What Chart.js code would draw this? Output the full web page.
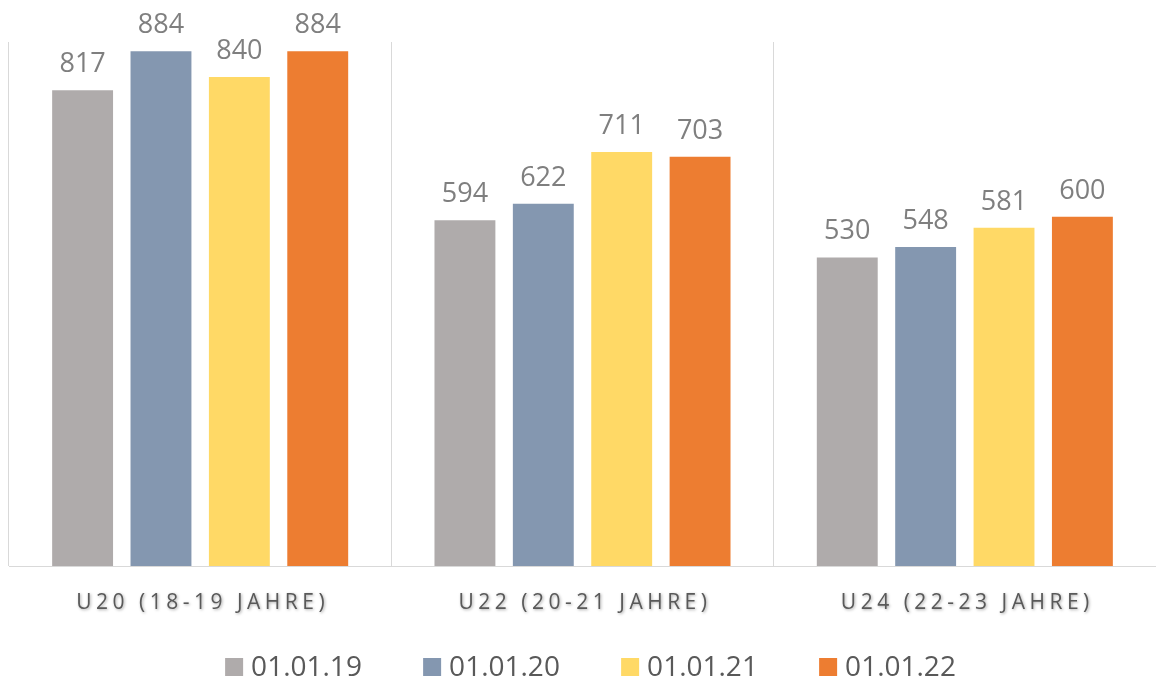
<!DOCTYPE html>
<html>
<head>
<meta charset="utf-8">
<script src="https://cdn.jsdelivr.net/npm/chart.js@4"></script>
<style>
  html, body { margin: 0; padding: 0; background: #fff; }
  #wrap { width: 1156px; height: 682px; }
</style>
</head>
<body>
<div id="wrap"><canvas id="chart" width="1156" height="682"></canvas></div>
<script>
// Daten
const categories = ['U20 (18-19 Jahre)', 'U22 (20-21 Jahre)', 'U24 (22-23 Jahre)'];
const seriesNames = ['01.01.19', '01.01.20', '01.01.21', '01.01.22'];
const values1901 = [817, 594, 530];
const values2001 = [884, 622, 548];
const values2101 = [840, 711, 581];
const values2201 = [884, 703, 600];
const seriesColors = ['#AFABAB', '#8497B0', '#FFD966', '#ED7D31'];

const FONT = "'Open Sans', 'DejaVu Sans', sans-serif";

// Werte über den Balken + Achsenbeschriftung + Legende
const labelPlugin = {
  id: 'customLabels',
  afterDraw(chart) {
    const ctx = chart.ctx;
    const xScale = chart.scales.x;
    const area = chart.chartArea;

    // Datenwerte
    ctx.save();
    ctx.font = `27px ${FONT}`;
    ctx.fillStyle = '#7F7F7F';
    ctx.textAlign = 'center';
    ctx.textBaseline = 'alphabetic';
    chart.data.datasets.forEach((ds, di) => {
      chart.getDatasetMeta(di).data.forEach((bar, i) => {
        ctx.fillText(String(ds.data[i]), bar.x, bar.y - 18);
      });
    });
    ctx.restore();

    // Kategorien (Großbuchstaben, gesperrt, mit Schatten)
    ctx.save();
    ctx.font = `21px ${FONT}`;
    ctx.letterSpacing = '4.5px';
    ctx.fillStyle = '#595959';
    ctx.textAlign = 'center';
    ctx.textBaseline = 'middle';
    ctx.shadowColor = 'rgba(0,0,0,0.35)';
    ctx.shadowBlur = 3;
    ctx.shadowOffsetX = 1;
    ctx.shadowOffsetY = 1.5;
    categories.forEach((c, i) => {
      ctx.fillText(c.toUpperCase(), xScale.getPixelForValue(i) + 2.5, 603);
    });
    ctx.restore();

    // Legende
    ctx.save();
    ctx.font = `28px ${FONT}`;
    ctx.fillStyle = '#595959';
    ctx.textBaseline = 'middle';
    const box = 18, gap = 8, step = 198;
    const lastW = box + gap + ctx.measureText(seriesNames[seriesNames.length - 1]).width;
    const total = step * (seriesNames.length - 1) + lastW;
    let x = (area.left + area.right) / 2 + 8 - total / 2;
    const y = 667;
    seriesNames.forEach((name, i) => {
      ctx.fillStyle = seriesColors[i];
      ctx.fillRect(x, y - box / 2, box, box);
      ctx.fillStyle = '#595959';
      ctx.fillText(name, x + box + gap, y + 1);
      x += step;
    });
    ctx.restore();
  }
};

const datasets = [values1901, values2001, values2101, values2201].map((vals, i) => ({
  label: seriesNames[i],
  data: vals,
  backgroundColor: seriesColors[i],
  borderWidth: 0,
  categoryPercentage: 0.82,
  barPercentage: 0.777
}));

new Chart(document.getElementById('chart'), {
  type: 'bar',
  data: { labels: categories, datasets },
  options: {
    responsive: false,
    animation: false,
    layout: { padding: { top: 42, left: 9, right: 0, bottom: 116 } },
    plugins: {
      legend: { display: false },
      tooltip: { enabled: false }
    },
    scales: {
      x: {
        offset: true,
        grid: { display: true, offset: true, color: '#D9D9D9', lineWidth: 1, drawTicks: false },
        border: { display: true, color: '#D9D9D9', width: 1 },
        ticks: { display: false }
      },
      y: {
        display: false,
        min: 0,
        max: 900
      }
    }
  },
  plugins: [labelPlugin]
});
</script>
</body>
</html>
